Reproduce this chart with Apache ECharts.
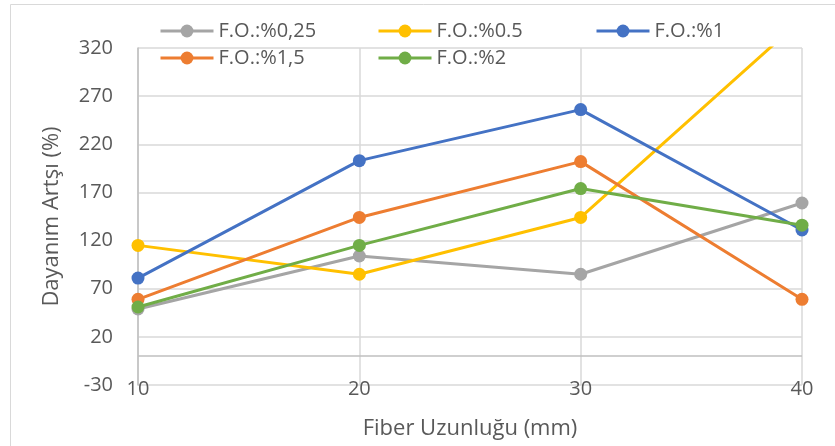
<!DOCTYPE html>
<html>
<head>
<meta charset="utf-8">
<script src="https://cdn.jsdelivr.net/npm/echarts@6/dist/echarts.min.js"></script>
<style>html,body{margin:0;padding:0;background:#fff;}#c{width:835px;height:446px;}</style>
</head>
<body>
<div id="c"></div>
<script>
const fiberLengths = [10, 20, 30, 40];
const seriesNames = ['F.O.:%0,25', 'F.O.:%0.5', 'F.O.:%1', 'F.O.:%1,5', 'F.O.:%2'];
const fo025 = [49, 104, 85, 159];
const fo05 = [115, 85, 144, 350];
const fo1 = [81, 203, 256, 131];
const fo15 = [59, 144, 202, 59];
const fo2 = [51, 115, 174, 136];
const yTicks = [-30, 20, 70, 120, 170, 220, 270, 320];
const colors = ['#A5A5A5', '#FFC000', '#4472C4', '#ED7D31', '#70AD47'];
const allValues = [fo025, fo05, fo1, fo15, fo2];

const font = '"Open Sans", "Noto Sans", sans-serif';
const textColor = '#595959';

const series = allValues.map((vals, i) => ({
  name: seriesNames[i],
  type: 'line',
  data: fiberLengths.map((x, j) => [x, vals[j]]),
  symbol: 'circle',
  symbolSize: 13,
  lineStyle: { width: 3, color: colors[i] },
  itemStyle: { color: colors[i] },
  clip: true,
  z: 3 + i
}));
series.push({
  type: 'line', data: [], silent: true,
  markLine: {
    silent: true, symbol: 'none', label: { show: false },
    lineStyle: { color: '#BFBFBF', width: 1.5, type: 'solid' },
    data: [{ yAxis: 0 }]
  }
});

const legendPos = [
  [159, 21], [377, 21], [595, 21],
  [159, 48], [377, 48]
];
const legends = seriesNames.map((n, i) => ({
  data: [n],
  left: legendPos[i][0], top: legendPos[i][1],
  itemWidth: 53, itemHeight: 16, itemGap: 4,
  lineStyle: { width: 3 },
  textStyle: { fontFamily: font, fontSize: 20, color: textColor, padding: [0, 0, 0, 0] },
  padding: 0
}));

const chart = echarts.init(document.getElementById('c'));
chart.setOption({
  animation: false,
  color: colors,
  graphic: [{
    type: 'rect', shape: { x: 10.5, y: 4.5, width: 900, height: 600 },
    style: { fill: 'none', stroke: '#D9D9D9', lineWidth: 1 }, silent: true, z: -10
  }],
  legend: legends,
  grid: { left: 138, right: 33, top: 48, bottom: 61 },
  xAxis: {
    type: 'value', min: 10, max: 40, interval: 10,
    name: 'Fiber Uzunluğu (mm)', nameLocation: 'middle', nameGap: 33,
    nameTextStyle: { fontFamily: font, fontSize: 22, color: textColor },
    axisLine: { show: false },
    axisTick: { show: false },
    axisLabel: { margin: -6, fontFamily: font, fontSize: 20, color: textColor },
    splitLine: { show: true, lineStyle: { color: '#D9D9D9', width: 1.5 } }
  },
  yAxis: {
    type: 'value', min: -30, max: 320, interval: 50,
    name: 'Dayanım Artşı (%)', nameLocation: 'middle', nameGap: 75,
    nameTextStyle: { fontFamily: font, fontSize: 22, color: textColor },
    axisLine: { show: true, onZero: false, lineStyle: { color: '#BFBFBF', width: 1.5 } },
    axisTick: { show: false },
    axisLabel: { margin: 25, fontFamily: font, fontSize: 20, color: textColor,
      formatter: v => yTicks.includes(v) ? String(v) : '' },
    splitLine: { show: true, lineStyle: { color: '#D9D9D9', width: 1.5 } }
  },
  series: series
});
</script>
</body>
</html>
